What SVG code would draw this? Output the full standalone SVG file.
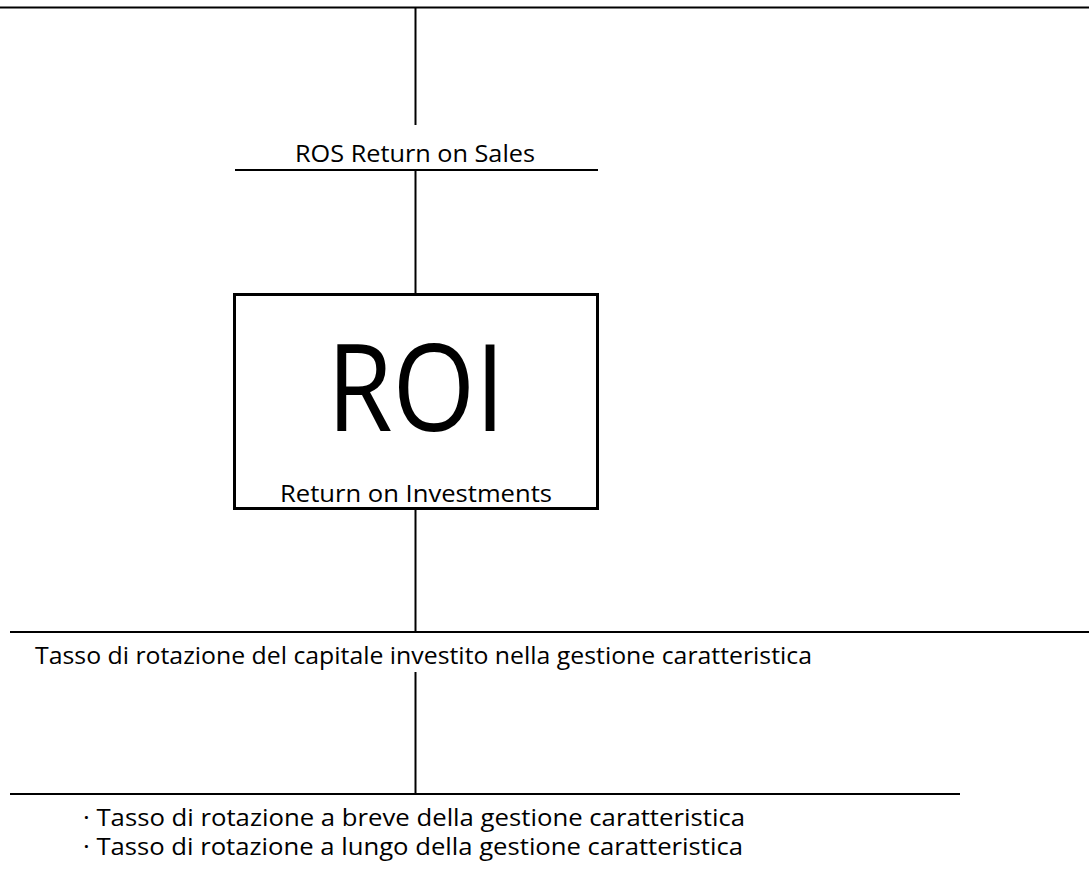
<svg xmlns="http://www.w3.org/2000/svg" width="1089" height="869" viewBox="0 0 1089 869">
<style>
.ln{stroke:#000;stroke-width:2;fill:none}
.box{stroke:#000;stroke-width:3;fill:#fff}
text{font-family:"Open Sans","Liberation Sans",sans-serif;fill:#000}
.t{font-size:24px}
</style>
<rect width="1089" height="869" fill="#fff"/>
<g id="connectors">
<line class="ln" x1="0" y1="7.5" x2="1089" y2="7.5"/>
<line class="ln" x1="415.5" y1="7" x2="415.5" y2="125"/>
<line class="ln" x1="415.5" y1="170" x2="415.5" y2="294"/>
<line class="ln" x1="415.5" y1="509" x2="415.5" y2="632"/>
<line class="ln" x1="10" y1="632" x2="1089" y2="632"/>
<line class="ln" x1="415.5" y1="672" x2="415.5" y2="794"/>
<line class="ln" x1="10" y1="794" x2="960" y2="794"/>
</g>
<g id="ros">
<line class="ln" x1="235" y1="170" x2="598" y2="170"/>
<text class="t" x="295" y="162" textLength="240" lengthAdjust="spacingAndGlyphs">ROS Return on Sales</text>
</g>
<g id="roi">
<rect class="box" x="234.5" y="294.5" width="363" height="214"/>
<text x="327" y="431" font-size="120" textLength="178" lengthAdjust="spacingAndGlyphs">ROI</text>
<text class="t" x="280" y="502" textLength="272" lengthAdjust="spacingAndGlyphs">Return on Investments</text>
</g>
<g id="tasso">
<text class="t" x="35" y="664" textLength="777" lengthAdjust="spacingAndGlyphs">Tasso di rotazione del capitale investito nella gestione caratteristica</text>
</g>
<g id="dettaglio">
<text class="t" x="83" y="826" textLength="662" lengthAdjust="spacingAndGlyphs">· Tasso di rotazione a breve della gestione caratteristica</text>
<text class="t" x="83" y="855" textLength="660" lengthAdjust="spacingAndGlyphs">· Tasso di rotazione a lungo della gestione caratteristica</text>
</g>
</svg>
